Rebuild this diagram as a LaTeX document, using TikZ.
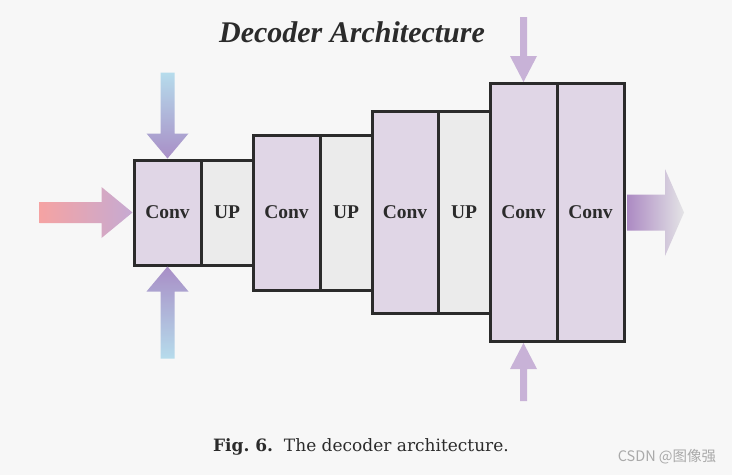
\documentclass[tikz,border=0pt]{standalone}
\usepackage{fontspec}
\setmainfont{Liberation Serif}
\newfontfamily\capfont{DejaVu Serif}
\newfontfamily\cjk{Noto Sans CJK SC}
\usetikzlibrary{calc,positioning}
\definecolor{bg}{RGB}{247,247,247}
\definecolor{edge}{RGB}{43,43,43}
\definecolor{convfill}{RGB}{224,214,230}
\definecolor{upfill}{RGB}{235,235,235}
\definecolor{pinkin}{RGB}{245,163,163}
\definecolor{lilac}{RGB}{198,170,210}
\definecolor{skyin}{RGB}{182,220,236}
\definecolor{violet}{RGB}{168,142,198}
\definecolor{mauve}{RGB}{200,178,215}
\definecolor{outl}{RGB}{172,138,195}
\definecolor{outr}{RGB}{228,228,230}
\definecolor{wmark}{RGB}{170,170,170}

\begin{document}
\begin{tikzpicture}[x=1pt,y=-1pt,
    blk/.style={draw=edge,line width=3pt,outer sep=0pt,inner sep=0pt,minimum height=#1,
      font=\fontsize{19.5}{19.5}\selectfont\bfseries,text=edge},
    conv/.style={blk=#1,fill=convfill,minimum width=67pt},
    up/.style={blk=#1,fill=upfill,minimum width=52pt}]
  \fill[bg] (0,0) rectangle (732,475);
  \node[font=\fontsize{30}{30}\selectfont\bfseries\itshape,text=edge] (title) at (352,32) {Decoder Architecture};
  \node[conv=105pt] (c1) at (167.5,212.5) {Conv};
  \node[up=105pt,right=0pt of c1] (u1) {UP};
  \node[conv=155pt,right=0pt of u1] (c2) {Conv};
  \node[up=155pt,right=0pt of c2] (u2) {UP};
  \node[conv=202pt,minimum width=66pt,right=0pt of u2] (c3) {Conv};
  \node[up=202pt,right=0pt of c3] (u3) {UP};
  \node[conv=258pt,right=0pt of u3] (c4) {Conv};
  \node[conv=258pt,right=0pt of c4] (c5) {Conv};
  \shade[left color=pinkin,right color=lilac,shift={($(c1.west)+(-1.5,0)$)}]
    (-93,-10.5) -- (-31,-10.5) -- (-31,-25.5) -- (0,0) -- (-31,25.5) -- (-31,10.5) -- (-93,10.5) -- cycle;
  \shade[top color=skyin,bottom color=violet,shift={($(c1.north)+(0,-1.5)$)}]
    (-7,-86) -- (-7,-25) -- (-21,-25) -- (0,0) -- (21,-25) -- (7,-25) -- (7,-86) -- cycle;
  \shade[top color=violet,bottom color=skyin,shift={($(c1.south)+(0,1.5)$)}]
    (-7,92) -- (-7,25) -- (-21,25) -- (0,0) -- (21,25) -- (7,25) -- (7,92) -- cycle;
  \fill[mauve,shift={($(c4.north)+(0,-1.5)$)}]
    (-3.5,-65) -- (-3.5,-26) -- (-13.5,-26) -- (0,0) -- (13.5,-26) -- (3.5,-26) -- (3.5,-65) -- cycle;
  \fill[mauve,shift={($(c4.south)+(0,1.5)$)}]
    (-3.5,58) -- (-3.5,26) -- (-13.5,26) -- (0,0) -- (13.5,26) -- (3.5,26) -- (3.5,58) -- cycle;
  \shade[left color=outl,right color=outr,shift={($(c5.east)+(3,0)$)}]
    (0,-18) -- (38,-18) -- (38,-43.5) -- (57,0) -- (38,43.5) -- (38,18) -- (0,18) -- cycle;
  \node[font=\capfont\fontsize{17}{17}\selectfont,text=edge] (cap) at (361,447) {\textbf{Fig.~6.}\ \ The decoder architecture.};
  \node[font=\cjk\fontsize{14.5}{14.5}\selectfont,text=wmark] (mark) at (667,457) {CSDN @图像强};
\end{tikzpicture}
\end{document}
